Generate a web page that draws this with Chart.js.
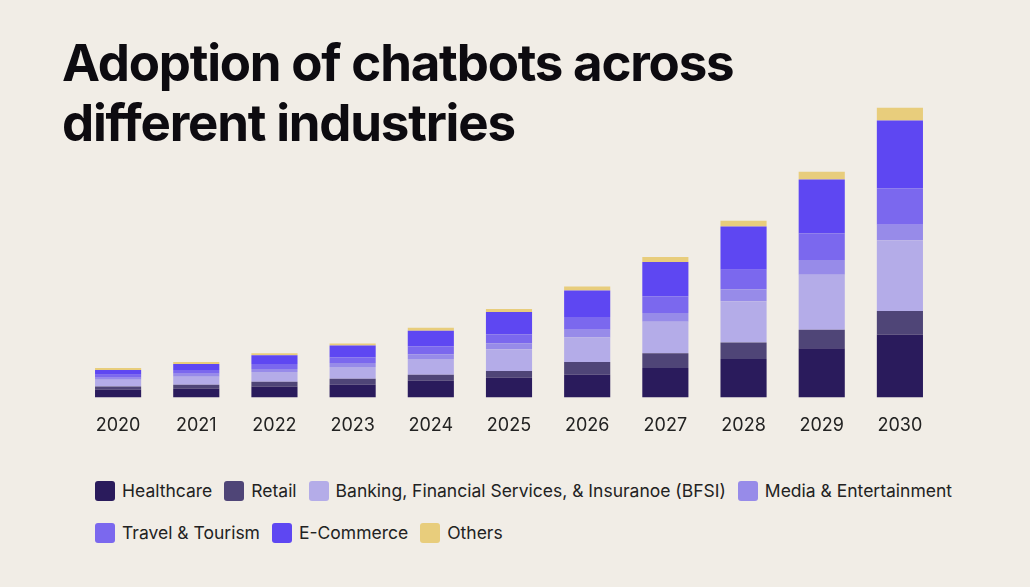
<!DOCTYPE html><html><head><meta charset="utf-8">
<script src="https://cdn.jsdelivr.net/npm/chart.js@4/dist/chart.umd.min.js"></script>
<style>
body{margin:0;background:#f1ede6;font-family:Inter,"Noto Sans",sans-serif;width:1030px;height:587px;overflow:hidden;position:relative}
h1{position:absolute;left:62px;top:33px;margin:0;font-size:51px;line-height:60px;font-weight:700;color:#0d0b10;letter-spacing:-1.2px}
#wrap{position:absolute;left:79px;top:100px;width:860px;height:345px}
#leg{position:absolute;left:95px;top:480px;width:900px;font-size:17.5px;color:#222}
.it{display:inline-flex;align-items:center;margin:0 12px 21px 0}
.sw{width:20px;height:20px;border-radius:3px;margin-right:7px;display:inline-block}
</style></head><body>
<h1>Adoption of chatbots across<br>different industries</h1>
<div id="wrap"><canvas id="c"></canvas></div>
<div id="leg"></div>
<script>
const years=["2020","2021","2022","2023","2024","2025","2026","2027","2028","2029","2030"];
const healthcare=[8,9,11,13,17,20,23,30,39,50,64];
const retail=[3,4,5,6,6,7,13,15,17,19,24];
const bfsi=[7,8,10,12,16,22,25,32,42,56,72];
const media=[2,3,3,4,5,6,8,9,12,15,16];
const travel=[3,4,5,6,8,9,13,17,20,27,37];
const ecommerce=[5,6,9,12,16,23,27,35,44,55,69];
const others=[2,2,2,2,3,3,4,5,6,8,13];
const names=["Healthcare","Retail","Banking, Financial Services, & Insuranoe (BFSI)","Media & Entertainment","Travel & Tourism","E-Commerce","Others"];
const colors=["#2a1b5c","#4f4577","#b4ace8","#978be9","#7b68ee","#5e47f2","#e8cd7c"];
const series=[healthcare,retail,bfsi,media,travel,ecommerce,others];
new Chart(document.getElementById('c'),{type:'bar',
data:{labels:years,datasets:series.map((d,i)=>({label:names[i],data:d,backgroundColor:colors[i],barPercentage:0.59,categoryPercentage:1}))},
options:{responsive:true,maintainAspectRatio:false,animation:false,
layout:{padding:{top:0,bottom:0}},
plugins:{legend:{display:false},tooltip:{enabled:false}},
scales:{x:{stacked:true,grid:{display:false},border:{display:false},ticks:{color:'#222',font:{size:18,family:'Inter'},padding:9}},
y:{stacked:true,display:false,min:0,max:303}}}});
document.getElementById('leg').innerHTML=names.map((n,i)=>`<span class="it"><span class="sw" style="background:${colors[i]}"></span>${n}</span>`).join('').replace('<span class="it"><span class="sw" style="background:#7b68ee">','<br><span class="it"><span class="sw" style="background:#7b68ee">');
</script></body></html>
